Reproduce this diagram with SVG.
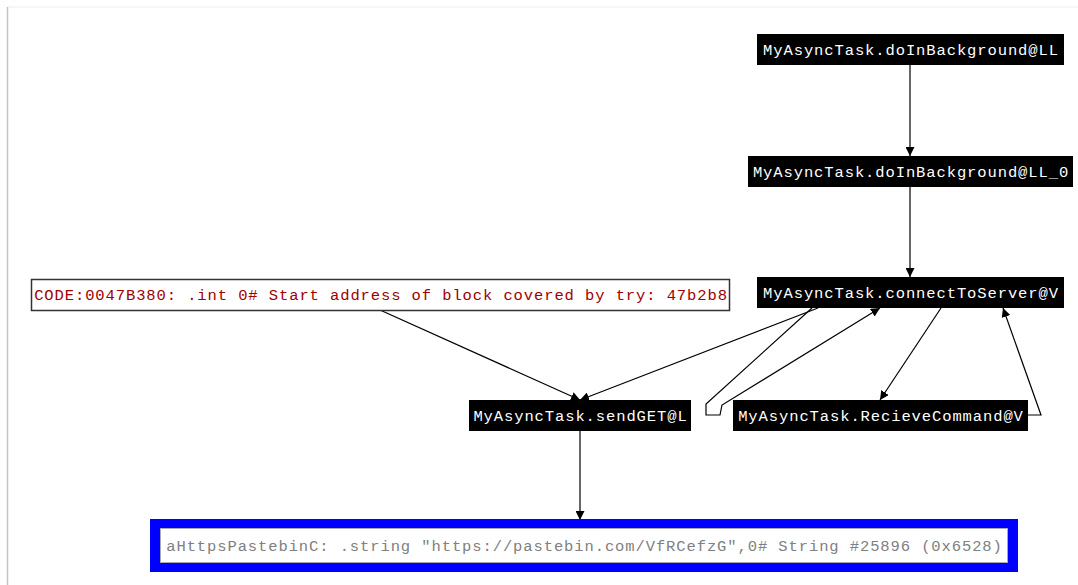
<svg xmlns="http://www.w3.org/2000/svg" width="1078" height="585" viewBox="0 0 1078 585">
<style>
.t{font-family:"Liberation Mono","DejaVu Sans Mono",monospace;font-size:15.5px;letter-spacing:0.9px;text-anchor:middle}
.blk{fill:#000}
.w{fill:#fff}
.e{fill:none;stroke:#000;stroke-width:1.2}
</style>
<defs>
<marker id="ah" viewBox="0 0 10 10" refX="10" refY="5" markerWidth="9" markerHeight="9" markerUnits="userSpaceOnUse" orient="auto">
<path d="M0,0 L10,5 L0,10 z" fill="#000"/>
</marker>
</defs>
<rect x="0" y="0" width="1078" height="585" fill="#fff"/>
<line x1="7" y1="7" x2="1078" y2="7" stroke="#eeeeee" stroke-width="1"/>
<line x1="7.5" y1="7" x2="7.5" y2="585" stroke="#c4c4c4" stroke-width="1.5"/>
<g id="connectors">
<line class="e" x1="910" y1="65" x2="910" y2="156" marker-end="url(#ah)"/>
<line class="e" x1="910" y1="187" x2="910" y2="277" marker-end="url(#ah)"/>
<line class="e" x1="380" y1="310" x2="580" y2="400" marker-end="url(#ah)"/>
<line class="e" x1="818" y1="308" x2="580" y2="400" marker-end="url(#ah)"/>
<polyline class="e" points="812,308 706,404 706,415 720,415 722,405 880,308" marker-end="url(#ah)"/>
<line class="e" x1="941" y1="308" x2="880" y2="400" marker-end="url(#ah)"/>
<polyline class="e" points="1028,415 1041,415 1003,308" marker-end="url(#ah)"/>
<line class="e" x1="580" y1="431" x2="580" y2="520" marker-end="url(#ah)"/>
</g>
<g id="n1">
<rect class="blk" x="757" y="34" width="307" height="31"/>
<text class="t w" x="911" y="55">MyAsyncTask.doInBackground@LL</text>
</g>
<g id="n2">
<rect class="blk" x="748" y="156" width="325" height="31"/>
<text class="t w" x="911" y="177">MyAsyncTask.doInBackground@LL_0</text>
</g>
<g id="n3">
<rect class="blk" x="757" y="277" width="307" height="31"/>
<text class="t w" x="911" y="298">MyAsyncTask.connectToServer@V</text>
</g>
<g id="n_code">
<rect x="31.5" y="279.5" width="698" height="31" fill="#fff" stroke="#333" stroke-width="1.5"/>
<text class="t" x="381" y="300" fill="#a00000">CODE:0047B380: .int 0# Start address of block covered by try: 47b2b8</text>
</g>
<g id="n_sendget">
<rect class="blk" x="469" y="400" width="222" height="31"/>
<text class="t w" x="580.5" y="421">MyAsyncTask.sendGET@L</text>
</g>
<g id="n_recieve">
<rect class="blk" x="733" y="400" width="295" height="31"/>
<text class="t w" x="881" y="421">MyAsyncTask.RecieveCommand@V</text>
</g>
<g id="n_string">
<rect x="150" y="519" width="868" height="53" fill="#0000ff"/>
<rect x="160.5" y="528.5" width="847" height="34" fill="#fff" stroke="#aaaaaa" stroke-width="1"/>
<text class="t" x="584.5" y="551" fill="#808080">aHttpsPastebinC: .string "https://pastebin.com/VfRCefzG",0# String #25896 (0x6528)</text>
</g>
</svg>
